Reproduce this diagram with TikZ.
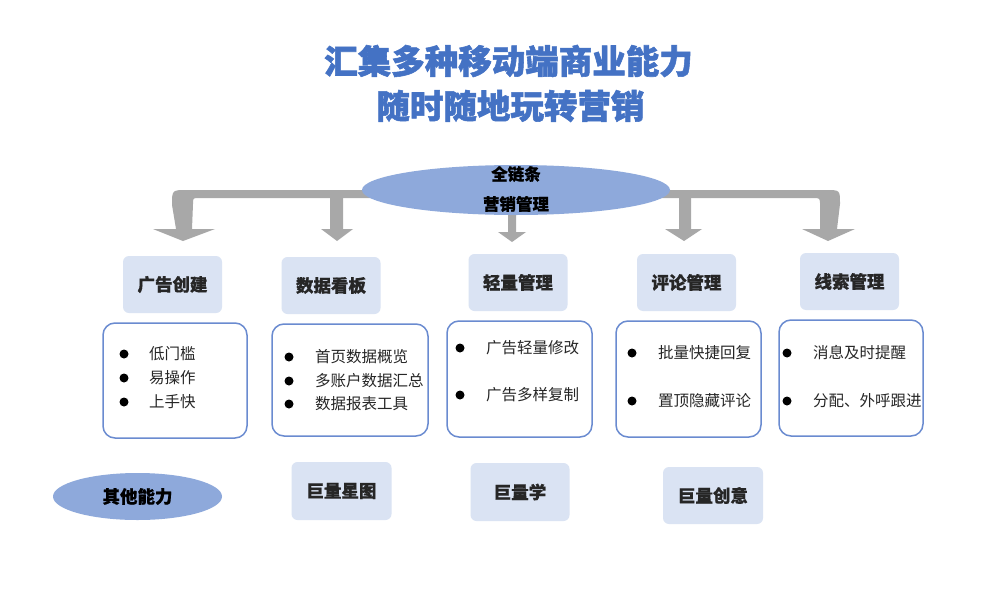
\documentclass[tikz,border=0pt]{standalone}
\usepackage{fontspec}
\setmainfont{Noto Sans CJK SC}[BoldFeatures={FakeBold=0.6}]
\newfontfamily\heavyf{Noto Sans CJK SC}[BoldFeatures={FakeBold=1.6}]
\usetikzlibrary{shapes.geometric,backgrounds}
\definecolor{titleblue}{HTML}{4472C4}
\definecolor{ellblue}{HTML}{8EA9DB}
\definecolor{hdrfill}{HTML}{DAE3F3}
\definecolor{boxline}{HTML}{6A8BD0}
\definecolor{arrgray}{HTML}{A8A8A8}
\definecolor{txt}{HTML}{262626}
\tikzset{
  titlefont/.style={font=\heavyf\fontsize{33.5}{36}\selectfont\bfseries, text=titleblue, inner sep=0pt},
  ellnode/.style={ellipse, fill=ellblue, inner sep=0pt, text=black},
  hdr/.style={rectangle, rounded corners=6pt, fill=hdrfill, inner sep=0pt,
    minimum width=99pt, minimum height=57pt, font=\fontsize{17.5}{20}\selectfont\bfseries, text=txt},
  cbox/.style={rectangle, rounded corners=12pt, draw=boxline, line width=1.5pt, fill=white, inner sep=0pt},
  dot/.style={circle, fill=black, inner sep=0pt, minimum size=9pt},
  itm/.style={anchor=west, inner sep=0pt, font=\fontsize{15.5}{18}\selectfont, text=txt},
  arr/.style={fill=arrgray}
}
\newcommand\blt[5]{\node[dot] (#1d) at (#2,#4) {}; \node[itm] (#1) at (#3,#4) {#5};}
\begin{document}
\begin{tikzpicture}[x=1pt,y=-1pt]
\useasboundingbox (0,0) rectangle (1008,602);

% title
\node[titlefont] (t1) at (508.5,61) {汇集多种移动端商业能力};
\node[titlefont] (t2) at (510.5,106) {随时随地玩转营销};

% central ellipse
\node[ellnode, minimum width=308pt, minimum height=50pt] (chain) at (516,190) {};
\node[font=\fontsize{16.5}{20}\selectfont\bfseries, inner sep=0pt] (chainA) at (516,174) {全链条};
\node[font=\fontsize{16.5}{20}\selectfont\bfseries, inner sep=0pt] (chainB) at (516,204) {营销管理};

% header boxes
\node[hdr] (h1) at (172.5,284.5) {广告创建};
\node[hdr] (h2) at (331,285.5) {数据看板};
\node[hdr] (h3) at (518,282.5) {轻量管理};
\node[hdr] (h4) at (686.5,282.5) {评论管理};
\node[hdr] (h5) at (849.5,281.5) {线索管理};

% arrow tips
\coordinate (tip1) at (183,241);
\coordinate (tip2) at (337,241);
\coordinate (tip3) at (512,242);
\coordinate (tip4) at (684,241);
\coordinate (tip5) at (828,241);

\begin{scope}[on background layer]
\fill[white] (0,0) rectangle (1008,602);
\fill[arr] (187,190) -- (826,190) .. controls (840,190) .. (840,204) -- (837,229) -- (855,229) -- (tip5) -- (802,229) -- (820,229) -- (820,205) .. controls (820,198) .. (813,198) -- (199,198) .. controls (193,198) .. (193,204) -- (192,229) -- (215,229) -- (tip1) -- (153,229) -- (176,229) -- (172,205) .. controls (172,190) .. (187,190) -- cycle;
\fill[arr] (330,196) -- (330,229) -- (321,229) -- (tip2) -- (353,229) -- (343,229) -- (343,196) -- cycle;
\fill[arr] (679,196) -- (679,229) -- (665,229) -- (tip4) -- (702,229) -- (691,229) -- (691,196) -- cycle;
\fill[arr] (508,210) -- (508,232) -- (498,232) -- (tip3) -- (526,232) -- (516,232) -- (516,210) -- cycle;
\end{scope}

% content boxes
\node[cbox, minimum width=144pt, minimum height=115pt] (c1) at (175,380.5) {};
\node[cbox, minimum width=156pt, minimum height=112pt] (c2) at (350,380) {};
\node[cbox, minimum width=145pt, minimum height=116pt] (c3) at (519.5,379) {};
\node[cbox, minimum width=145pt, minimum height=116pt] (c4) at (688.5,379) {};
\node[cbox, minimum width=144pt, minimum height=116pt] (c5) at (851,378) {};

\blt{a1}{124}{149}{354}{低门槛}
\blt{a2}{124}{149}{378}{易操作}
\blt{a3}{124}{149}{402}{上手快}
\blt{b1}{289}{315}{357}{首页数据概览}
\blt{b2}{289}{315}{381}{多账户数据汇总}
\blt{b3}{289}{315}{404}{数据报表工具}
\blt{e1}{460}{486}{348}{广告轻量修改}
\blt{e2}{460}{486}{395}{广告多样复制}
\blt{f1}{632}{658}{353}{批量快捷回复}
\blt{f2}{632}{658}{401}{置顶隐藏评论}
\blt{g1}{787}{813}{353}{消息及时提醒}
\blt{g2}{787}{813}{401}{分配、外呼跟进}

% bottom row
\node[ellnode, minimum width=169pt, minimum height=47pt, font=\fontsize{17.5}{20}\selectfont\bfseries] (other) at (137.5,496.5) {其他能力};
\node[hdr, minimum width=100pt, minimum height=58pt] (k1) at (341.5,491) {巨量星图};
\node[hdr, minimum width=99pt, minimum height=58pt] (k2) at (520,492) {巨量学};
\node[hdr, minimum width=100pt, minimum height=57pt] (k3) at (713,495.5) {巨量创意};
\end{tikzpicture}
\end{document}
